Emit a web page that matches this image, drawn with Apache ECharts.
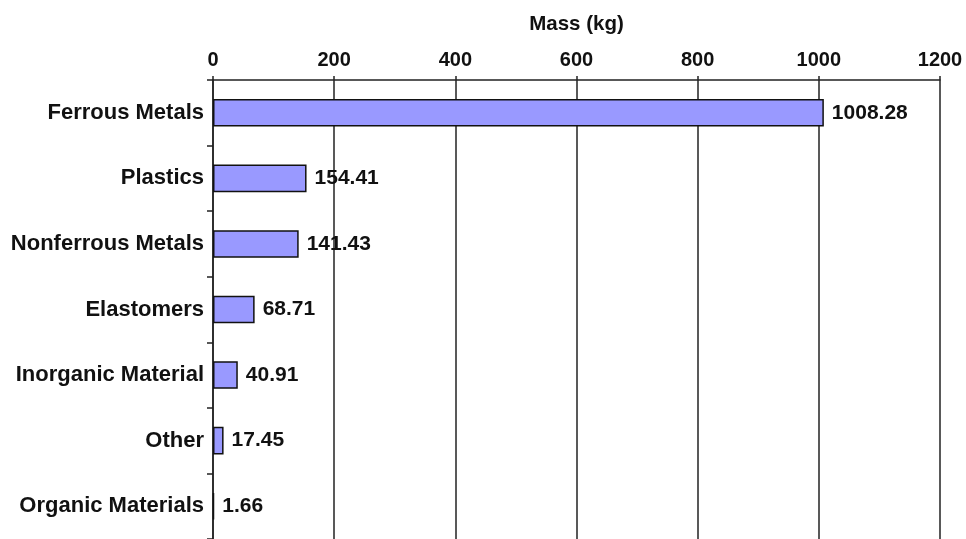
<!DOCTYPE html>
<html>
<head>
<meta charset="utf-8">
<script src="https://cdn.jsdelivr.net/npm/echarts@6/dist/echarts.min.js"></script>
<style>
  html, body { margin: 0; padding: 0; background: #fff; }
  #chart { width: 966px; height: 539px; }
</style>
</head>
<body>
<div id="chart"></div>
<script>
// Material composition by mass
const categories = ['Ferrous Metals', 'Plastics', 'Nonferrous Metals', 'Elastomers', 'Inorganic Material', 'Other', 'Organic Materials'];
const massKg = [1008.28, 154.41, 141.43, 68.71, 40.91, 17.45, 1.66];
const axisTicks = [0, 200, 400, 600, 800, 1000, 1200];

const font = 'Liberation Sans, Arial, sans-serif';
const chart = echarts.init(document.getElementById('chart'), null, { renderer: 'canvas' });

chart.setOption({
  animation: false,
  backgroundColor: '#ffffff',
  grid: { left: 213, right: 26, top: 80, bottom: -5, containLabel: false },
  xAxis: {
    type: 'value',
    position: 'top',
    min: axisTicks[0],
    max: axisTicks[axisTicks.length - 1],
    interval: axisTicks[1] - axisTicks[0],
    name: 'Mass (kg)',
    nameLocation: 'middle',
    nameGap: 45,
    nameTextStyle: { fontFamily: font, fontWeight: 'bold', fontSize: 20.5, color: '#111' },
    axisLine: { show: true, lineStyle: { color: '#222', width: 1.5 } },
    axisTick: { show: true, length: 4, lineStyle: { color: '#222', width: 1.5 } },
    axisLabel: {
      fontFamily: font, fontWeight: 'bold', fontSize: 20, color: '#111', margin: 10,
      formatter: v => String(v)
    },
    splitLine: { show: true, lineStyle: { color: '#222', width: 1.5 } }
  },
  yAxis: {
    type: 'category',
    data: categories,
    inverse: true,
    axisLine: { show: true, lineStyle: { color: '#222', width: 1.5 } },
    axisTick: { show: true, length: 6, inside: false, lineStyle: { color: '#222', width: 1.5 } },
    axisLabel: { fontFamily: font, fontWeight: 'bold', fontSize: 22, color: '#111', margin: 9 },
    splitLine: { show: false }
  },
  series: [{
    type: 'bar',
    data: massKg,
    barWidth: '42%',
    itemStyle: { color: '#9999ff', borderColor: '#111', borderWidth: 1.5 },
    label: {
      show: true,
      position: 'right',
      distance: 8,
      fontFamily: font,
      fontWeight: 'bold',
      fontSize: 21,
      color: '#111',
      formatter: p => p.value.toFixed(2)
    }
  }]
});
</script>
</body>
</html>
